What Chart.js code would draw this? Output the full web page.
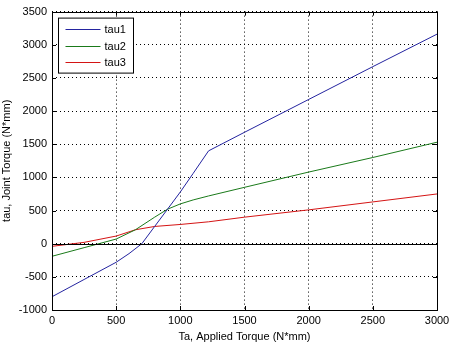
<!DOCTYPE html>
<html>
<head>
<meta charset="utf-8">
<script src="https://cdn.jsdelivr.net/npm/chart.js@4.4.1/dist/chart.umd.min.js"></script>
<style>
  html, body { margin: 0; padding: 0; background: #fff; }
  #wrap { width: 449px; height: 344px; position: relative; }
</style>
</head>
<body>
<div id="wrap"><canvas id="chart"></canvas></div>
<script>
// applied torque (N*mm) and joint torques
const tau1X = [0, 250, 500, 600, 700, 800, 900, 1000, 1100, 1220, 1500, 2000, 2500, 3000];
const tau1Y = [-800, -540, -280, -150, 0, 260, 520, 780, 1060, 1400, 1680, 2175, 2670, 3160];
const tau2X = [0, 250, 500, 650, 800, 900, 1000, 1100, 1220, 1500, 2000, 2500, 3000];
const tau2Y = [-190, -60, 70, 210, 400, 520, 600, 660, 720, 850, 1080, 1300, 1530];
const tau3X = [0, 250, 500, 650, 800, 1000, 1220, 1500, 2000, 2500, 3000];
const tau3Y = [-40, 20, 115, 210, 260, 290, 330, 400, 510, 630, 750];
const xTicks = [0, 500, 1000, 1500, 2000, 2500, 3000];
const yTicks = [-1000, -500, 0, 500, 1000, 1500, 2000, 2500, 3000, 3500];

const FONT = 'Liberation Sans, Arial, sans-serif';
const pts = (xs, ys) => xs.map((x, i) => ({ x: x, y: ys[i] }));

// MATLAB-style box, inside ticks, zero line and legend
const matlabDecor = {
    id: 'matlabDecor',
    afterDatasetsDraw(chart) {
        const ctx = chart.ctx;
        const a = chart.chartArea;
        const xs = chart.scales.x, ys = chart.scales.y;
        ctx.save();
        ctx.strokeStyle = '#000';
        ctx.lineWidth = 1;
        ctx.setLineDash([]);
        // zero line
        const y0 = Math.round(ys.getPixelForValue(0)) + 0.5;
        ctx.beginPath(); ctx.moveTo(a.left, y0); ctx.lineTo(a.right, y0); ctx.stroke();
        // box
        ctx.strokeRect(Math.round(a.left) + 0.5, Math.round(a.top) + 0.5,
            Math.round(a.right - a.left), Math.round(a.bottom - a.top));
        // ticks
        ctx.beginPath();
        xTicks.forEach(v => {
            const px = Math.round(xs.getPixelForValue(v)) + 0.5;
            ctx.moveTo(px, a.bottom); ctx.lineTo(px, a.bottom - 4);
            ctx.moveTo(px, a.top); ctx.lineTo(px, a.top + 4);
        });
        yTicks.forEach(v => {
            const py = Math.round(ys.getPixelForValue(v)) + 0.5;
            ctx.moveTo(a.left, py); ctx.lineTo(a.left + 4, py);
            ctx.moveTo(a.right, py); ctx.lineTo(a.right - 4, py);
        });
        ctx.stroke();
        // legend
        const lx = a.left + 6.5, ly = a.top + 6.5, lw = 75, lh = 55;
        ctx.fillStyle = '#fff';
        ctx.fillRect(lx, ly, lw, lh);
        ctx.strokeRect(lx, ly, lw, lh);
        ctx.font = '11px ' + FONT;
        ctx.textBaseline = 'middle';
        chart.data.datasets.forEach((ds, i) => {
            const yy = Math.round(ly + 11 + i * 16.5) + 0.5;
            ctx.strokeStyle = ds.borderColor;
            ctx.beginPath(); ctx.moveTo(lx + 7, yy); ctx.lineTo(lx + 42, yy); ctx.stroke();
            ctx.fillStyle = '#000';
            ctx.fillText(ds.label, lx + 46, yy);
        });
        ctx.restore();
    }
};

new Chart(document.getElementById('chart'), {
    type: 'line',
    data: {
        datasets: [
            { label: 'tau1', data: pts(tau1X, tau1Y), borderColor: '#2424a0' },
            { label: 'tau2', data: pts(tau2X, tau2Y), borderColor: '#1a7a1a' },
            { label: 'tau3', data: pts(tau3X, tau3Y), borderColor: '#d41414' }
        ].map(d => Object.assign(d, { borderWidth: 1, pointRadius: 0, tension: 0, fill: false }))
    },
    options: {
        responsive: true,
        maintainAspectRatio: false,
        animation: false,
        devicePixelRatio: 1,
        layout: { padding: { top: 5, right: 0, left: 0, bottom: 0 } },
        plugins: { legend: { display: false }, tooltip: { enabled: false } },
        scales: {
            x: {
                type: 'linear', min: 0, max: 3000,
                afterBuildTicks: s => { s.ticks = xTicks.map(v => ({ value: v })); },
                afterFit: s => { s.height = 34; s.paddingRight = 12; s.paddingLeft = 0; },
                grid: { color: '#000', lineWidth: 1, drawTicks: false },
                border: { display: false, dash: [1, 3] },
                ticks: { color: '#000', padding: 4, font: { family: FONT, size: 11 }, maxRotation: 0,
                         callback: v => String(v) },
                title: { display: true, text: 'Ta, Applied Torque (N*mm)', color: '#000',
                         padding: { top: 0, bottom: 0 }, font: { family: FONT, size: 11 } }
            },
            y: {
                type: 'linear', min: -1000, max: 3500,
                afterBuildTicks: s => { s.ticks = yTicks.map(v => ({ value: v })); },
                afterFit: s => { s.width = 52; },
                grid: { color: '#000', lineWidth: 1, drawTicks: false },
                border: { display: false, dash: [1, 3] },
                ticks: { color: '#000', padding: 5, font: { family: FONT, size: 11 },
                         callback: v => String(v) },
                title: { display: true, text: 'tau, Joint Torque (N*mm)', color: '#000',
                         padding: { top: 0, bottom: 0 }, font: { family: FONT, size: 11 } }
            }
        }
    },
    plugins: [matlabDecor]
});
</script>
</body>
</html>
